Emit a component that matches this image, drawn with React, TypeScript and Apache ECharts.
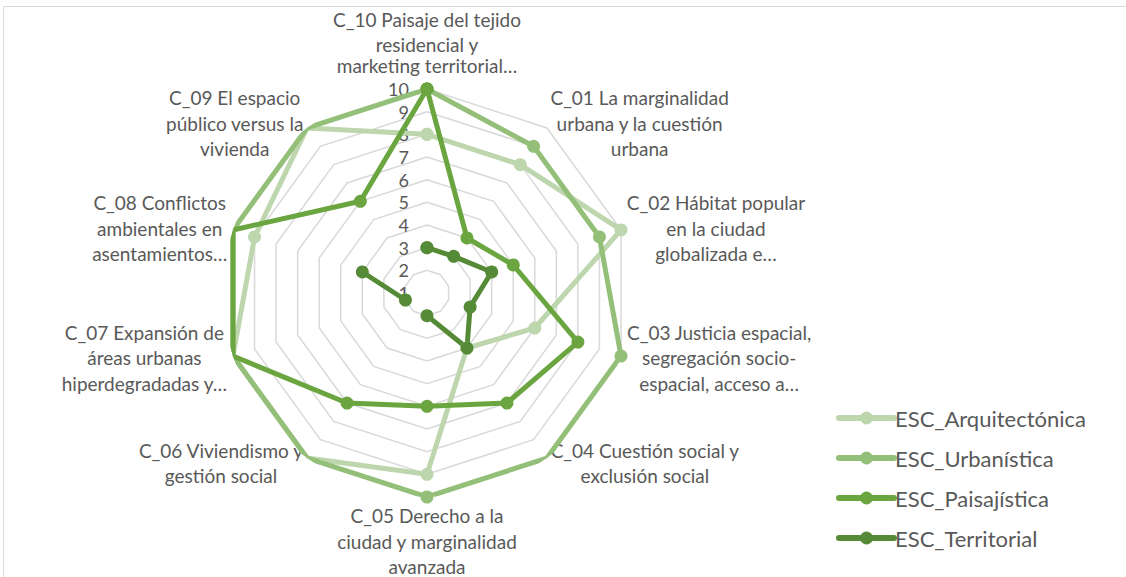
import React, { useEffect, useRef } from 'react';
import * as echarts from 'echarts';

// Categories in clockwise order starting from the top
const categories = [
  'C_10 Paisaje del tejido\nresidencial y\nmarketing territorial…',
  'C_01 La marginalidad\nurbana y la cuestión\nurbana',
  'C_02 Hábitat popular\nen la ciudad\nglobalizada e…',
  'C_03 Justicia espacial,\nsegregación socio-\nespacial, acceso a…',
  'C_04 Cuestión social y\nexclusión social',
  'C_05 Derecho a la\nciudad y marginalidad\navanzada',
  'C_06 Viviendismo y\ngestión social',
  'C_07 Expansión de\náreas urbanas\nhiperdegradadas y…',
  'C_08 Conflictos\nambientales en\nasentamientos…',
  'C_09 El espacio\npúblico versus la\nvivienda',
];

const seriesNames = ['ESC_Arquitectónica', 'ESC_Urbanística', 'ESC_Paisajística', 'ESC_Territorial'];
const arquitectonica = [8, 8, 10, 6, 4, 9, 10, 10, 9, 10];
const urbanistica = [10, 9, 9, 10, 10, 10, 10, 10, 10, 10];
const paisajistica = [10, 4, 5, 8, 7, 6, 7, 10, 10, 6];
const territorial: (number | null)[] = [3, 3, 4, 3, 4, 2, null, 2, 4, null];
const seriesColors = ['#bdd6ad', '#93bf78', '#6aa53f', '#558a36'];

const axisMin = 1;
const axisMax = 10;

const FONT = 'Lato, "Noto Sans", sans-serif';

export default function App() {
  const ref = useRef<HTMLDivElement>(null);
  useEffect(() => {
    if (!ref.current) return;
    const chart = echarts.init(ref.current, undefined, { renderer: 'svg' });
    const N = categories.length;
    const toPolar = (vals: (number | null)[]) => {
      const d: any[] = vals.map((v, i) => [v == null ? '-' : v, i]);
      d.push([vals[0] == null ? '-' : vals[0], N]);
      return d;
    };
    const allData = [arquitectonica, urbanistica, paisajistica, territorial];
    // radar is counter-clockwise: reverse order after the first
    const order = [0, ...Array.from({ length: N - 1 }, (_, k) => N - 1 - k)];
    chart.setOption({
      animation: false,
      graphic: [
        {
          type: 'rect',
          silent: true,
          z: -10,
          shape: { x: 3.5, y: 6.5, width: 1400, height: 800 },
          style: { fill: 'none', stroke: '#d9d9d9', lineWidth: 1 },
        },
      ],
      legend: {
        orient: 'vertical',
        left: 831,
        top: 402,
        itemWidth: 55,
        itemHeight: 16,
        itemGap: 18,
        data: seriesNames,
        lineStyle: { width: 6, cap: 'round' },
        textStyle: { color: '#595959', fontSize: 22, fontFamily: FONT, padding: [0, 0, 0, -4] },
      },
      radar: {
        center: [427, 293],
        radius: 204,
        startAngle: 90,
        shape: 'polygon',
        splitNumber: 9,
        indicator: order.map((i) => ({ name: categories[i], min: axisMin, max: axisMax })),
        axisNameGap: 6,
        axisName: {
          color: '#595959',
          fontSize: 19,
          fontFamily: FONT,
          lineHeight: 25.5,
          formatter: (name: string) => {
            const lines = name.split('\n');
            const top = name.startsWith('C_10');
            return lines
              .map((l, j) => (top && j === lines.length - 1 ? '{b|' + l + '}' : '{a|' + l + '}'))
              .join('\n');
          },
          rich: {
            a: { align: 'center', color: '#595959', fontSize: 19, fontFamily: FONT, lineHeight: 25.5 },
            b: {
              align: 'center',
              color: '#595959',
              fontSize: 19,
              fontFamily: FONT,
              lineHeight: 25.5,
              padding: [0, 0, 9, 0],
            },
          },
        },
        splitLine: { lineStyle: { color: '#d9d9d9', width: 1.5 } },
        splitArea: { show: false },
        axisLine: { show: false },
        axisTick: { show: false },
        axisLabel: { show: false },
      },
      polar: { center: [427, 293], radius: 204 },
      angleAxis: {
        type: 'value',
        min: 0,
        max: N,
        startAngle: 90,
        clockwise: true,
        show: false,
      },
      radiusAxis: {
        type: 'value',
        min: axisMin,
        max: axisMax,
        interval: 1,
        axisLine: { show: false },
        axisTick: { show: false },
        splitLine: { show: false },
        axisLabel: {
          color: '#595959',
          fontSize: 18,
          fontFamily: FONT,
          margin: 18,
          align: 'right',
          verticalAlign: 'middle',
        },
      },
      series: allData.map((vals, k) => ({
        name: seriesNames[k],
        type: 'line',
        coordinateSystem: 'polar',
        data: toPolar(vals),
        symbol: 'circle',
        symbolSize: 13,
        showSymbol: true,
        connectNulls: false,
        color: seriesColors[k],
        itemStyle: { color: seriesColors[k] },
        lineStyle: { color: seriesColors[k], width: 5, cap: 'round', join: 'round' },
        emphasis: { disabled: true },
      })),
    });
    return () => chart.dispose();
  }, []);
  return (
    <div
      ref={ref}
      style={{ position: 'absolute', left: 0, top: 0, width: 1126, height: 577, background: '#fff' }}
    />
  );
}
